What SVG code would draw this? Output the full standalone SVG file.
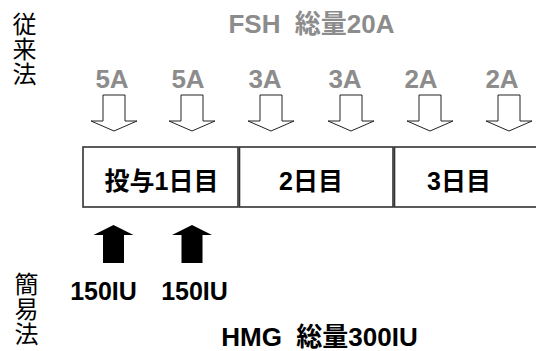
<svg xmlns="http://www.w3.org/2000/svg" width="536" height="351" viewBox="0 0 536 351">
<style>
text{font-family:"Liberation Sans","Noto Sans CJK JP",sans-serif;font-weight:bold;white-space:pre}
.g{fill:#8c8c8c;font-size:26px;text-anchor:middle}
.b{fill:#000;font-size:25px;text-anchor:middle}
.h{fill:#000;font-size:26px;text-anchor:middle}
.v{fill:#000;font-size:24px;font-weight:normal;font-family:"Noto Sans CJK JP",sans-serif;writing-mode:vertical-rl;letter-spacing:1px}
.box{fill:#fff;stroke:#333;stroke-width:1.6}
.ha{fill:#fff;stroke:#222;stroke-width:1}
.ba{fill:#000}
</style>
<defs>
<path id="hollow" class="ha" d="M-11,95 H11 V121 H23 L0,131 L-23,121 H-11 Z"/>
<path id="solid" class="ba" d="M0,225 L20,235 H10.5 V263 H-10.5 V235 H-20 Z"/>
</defs>
<g id="label-conventional"><text class="v" x="24.5" y="12">従来法</text></g>
<g id="label-simple"><text class="v" x="26.5" y="272">簡易法</text></g>
<g id="fsh-total"><text class="g" x="311.5" y="33">FSH  総量20A</text></g>
<g id="doses">
<text class="g" x="112" y="88">5A</text>
<text class="g" x="188" y="88">5A</text>
<text class="g" x="265" y="88">3A</text>
<text class="g" x="345" y="88">3A</text>
<text class="g" x="421" y="88">2A</text>
<text class="g" x="502" y="88">2A</text>
</g>
<g id="connectors">
<use href="#hollow" x="114"/>
<use href="#hollow" x="192"/>
<use href="#hollow" x="271"/>
<use href="#hollow" x="351"/>
<use href="#hollow" x="430"/>
<use href="#hollow" x="509"/>
<use href="#solid" x="113.5"/>
<use href="#solid" x="192"/>
</g>
<g id="day1"><rect class="box" x="83" y="147" width="155" height="60"/><text class="b" x="161.5" y="190">投与1日目</text></g>
<g id="day2"><rect class="box" x="239.5" y="147" width="153.5" height="60"/><text class="b" x="311" y="190">2日目</text></g>
<g id="day3"><rect class="box" x="394.5" y="147" width="150" height="60"/><text class="b" x="459" y="190">3日目</text></g>
<g id="hmg-doses">
<text class="b" x="103.5" y="300">150IU</text>
<text class="b" x="194.5" y="300">150IU</text>
</g>
<g id="hmg-total"><text class="h" x="319.5" y="346">HMG  総量300IU</text></g>
</svg>
